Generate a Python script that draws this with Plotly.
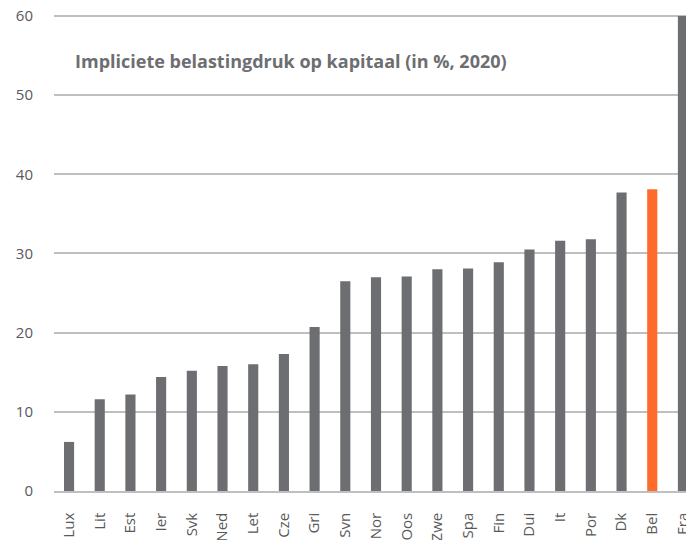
import plotly.graph_objects as go

categories = ["Lux", "Lit", "Est", "Ier", "Svk", "Ned", "Let", "Cze", "Gri", "Svn", "Nor",
              "Oos", "Zwe", "Spa", "Fin", "Dui", "It", "Por", "Dk", "Bel", "Fra"]
values = [6.2, 11.6, 12.2, 14.4, 15.2, 15.8, 16.0, 17.3, 20.7, 26.5, 27.0,
          27.1, 28.0, 28.1, 28.9, 30.5, 31.6, 31.8, 37.7, 38.1, 60.0]
highlight = "Bel"
y_ticks = [0, 10, 20, 30, 40, 50, 60]
title_text = "Impliciete belastingdruk op kapitaal (in %, 2020)"

GRAY = "#6D6E71"
ORANGE = "#FF6B2B"
colors = [ORANGE if c == highlight else GRAY for c in categories]

fig = go.Figure(go.Bar(x=categories, y=values, marker=dict(color=colors, line=dict(width=0)),
                       hoverinfo="x+y"))

# page body has an 8px margin, so the figure is sized to fit the 694x540 window
fig.update_layout(
    width=686, height=532,
    margin=dict(l=46, r=0, t=6, b=49),
    plot_bgcolor="white", paper_bgcolor="white",
    bargap=0.67,
    showlegend=False,
    font=dict(family="Open Sans, Liberation Sans, sans-serif", color="#595959", size=15),
    xaxis=dict(tickangle=-90, showgrid=False, ticks="", showline=True, linecolor="#BFBFBF",
               linewidth=1.5, automargin=False, range=[-0.49, 20.36],
               ticklabelstandoff=14,
               tickfont=dict(size=15, color="#595959")),
    yaxis=dict(range=[0, 60.25], tickvals=y_ticks, showgrid=True, gridcolor="#BFBFBF", gridwidth=1.5,
               zeroline=False, showline=False, ticks="", ticklabelstandoff=20, automargin=False,
               ticklabeloverflow="allow",
               tickfont=dict(size=15, color="#595959")),
    annotations=[dict(text="<b>" + title_text + "</b>", x=0.03, y=0.901, xref="paper", yref="paper",
                      xanchor="left", yanchor="middle", showarrow=False,
                      font=dict(size=18, color="#6D6E71"))],
)

fig.write_html("out.html")
